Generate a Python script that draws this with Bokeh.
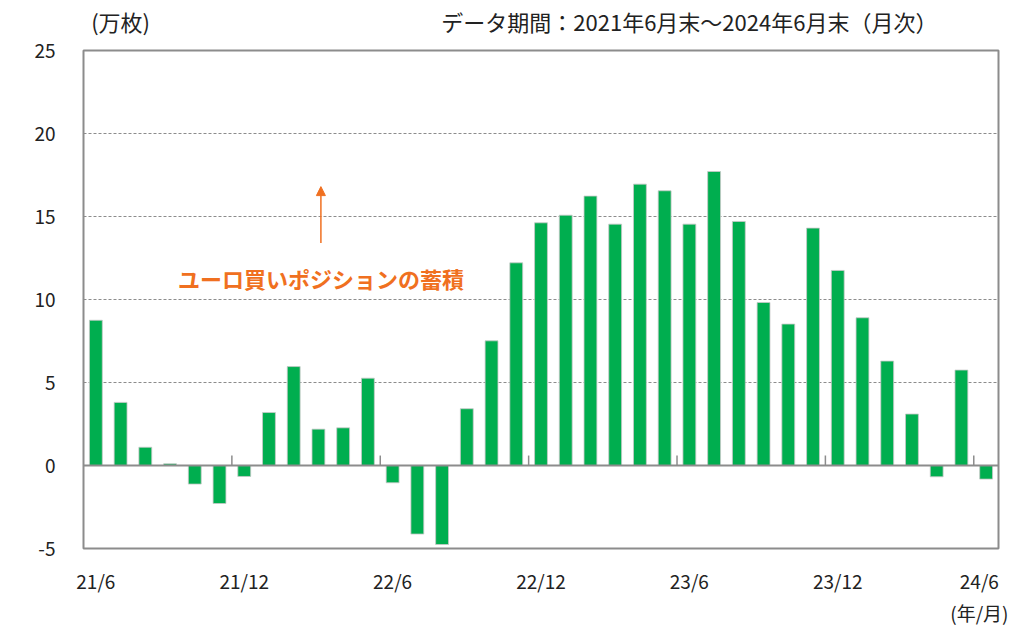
from bokeh.plotting import figure
from bokeh.models import ColumnDataSource, FixedTicker, Span, Label, Arrow, NormalHead, LinearAxis
from bokeh.embed import file_html
from bokeh.resources import INLINE

months = ["21/6","21/7","21/8","21/9","21/10","21/11","21/12",
          "22/1","22/2","22/3","22/4","22/5","22/6","22/7","22/8","22/9","22/10","22/11","22/12",
          "23/1","23/2","23/3","23/4","23/5","23/6","23/7","23/8","23/9","23/10","23/11","23/12",
          "24/1","24/2","24/3","24/4","24/5","24/6"]
values = [8.75, 3.8, 1.1, 0.1, -1.12, -2.29, -0.66,
          3.19, 5.96, 2.19, 2.27, 5.26, -1.04, -4.13, -4.76, 3.42, 7.51, 12.21, 14.62,
          15.08, 16.23, 14.54, 16.95, 16.55, 14.54, 17.71, 14.7, 9.82, 8.52, 14.3, 11.75,
          8.9, 6.29, 3.1, -0.68, 5.75, -0.82]
label_months = ["21/6", "21/12", "22/6", "22/12", "23/6", "23/12", "24/6"]
y_ticks = [-5, 0, 5, 10, 15, 20, 25]
grid_ticks = [5, 10, 15, 20]
unit_text = "(万枚)"
period_text = "データ期間：2021年6月末～2024年6月末（月次）"
x_unit_text = "(年/月)"
note_text = "ユーロ買いポジションの蓄積"

FONT = "Noto Sans CJK JP"
idx = list(range(len(months)))
src = ColumnDataSource(dict(x=idx, top=values, m=months))

p = figure(width=1008, height=628, output_backend="svg", toolbar_location=None,
           x_range=(-0.5, len(months) - 0.5), y_range=(-5, 25),
           min_border_left=83, min_border_right=10, min_border_top=50, min_border_bottom=72)

p.vbar(x="x", top="top", bottom=0, width=0.52, source=src,
       fill_color="#00AE4F", line_color="#C8C8C8", line_width=0.8)

label_pos = [months.index(m) for m in label_months]
overrides = {i: months[i] for i in label_pos}
overrides[label_pos[-1]] = months[label_pos[-1]] + "\n" + x_unit_text
p.xaxis.ticker = FixedTicker(ticks=label_pos)
p.xaxis.major_label_overrides = overrides
p.xaxis.axis_line_color = None
p.xaxis.major_tick_line_color = None
p.xaxis.minor_tick_line_color = None
p.xaxis.major_label_standoff = 12
p.xaxis.major_label_text_font = FONT
p.xaxis.major_label_text_font_size = "19px"
p.xaxis.major_label_text_color = "#222222"

p.yaxis.ticker = FixedTicker(ticks=y_ticks)
p.yaxis.major_label_overrides = {t: str(t) for t in y_ticks}
p.yaxis.axis_line_color = None
p.yaxis.major_tick_line_color = None
p.yaxis.minor_tick_line_color = None
p.yaxis.major_label_standoff = 22
p.yaxis.major_label_text_font = FONT
p.yaxis.major_label_text_font_size = "19px"
p.yaxis.major_label_text_color = "#222222"
p.yaxis.axis_label = " "
p.yaxis.axis_label_text_font_size = "1px"
p.yaxis.axis_label_standoff = 7

# header texts as labels of an axis above the plot
top_axis = LinearAxis(ticker=FixedTicker(ticks=[1, 24]),
                      major_label_overrides={1: unit_text, 24: period_text},
                      axis_line_color=None, major_tick_line_color=None,
                      minor_tick_line_color=None, major_label_standoff=8,
                      major_label_text_font=FONT, major_label_text_font_size="22px",
                      major_label_text_color="#222222")
p.add_layout(top_axis, "above")

p.xgrid.visible = False
p.ygrid.ticker = FixedTicker(ticks=grid_ticks)
p.ygrid.grid_line_color = "#8C8C8C"
p.ygrid.grid_line_dash = "3 2"
p.ygrid.grid_line_width = 1

p.outline_line_color = "#8C8C8C"
p.outline_line_width = 2

p.add_layout(Span(location=0, dimension="width", line_color="#8C8C8C", line_width=2))

bounds = [i - 0.5 for i in label_pos[1:]]
p.segment(x0=bounds, y0=[0]*len(bounds), x1=bounds, y1=[0.6]*len(bounds),
          line_color="#8C8C8C", line_width=1.5)

p.add_layout(Label(x=9.1, y=11.3, text=note_text, text_font=FONT,
                   text_font_size="22px", text_font_style="bold", text_color="#F07020",
                   text_baseline="middle", text_align="center"))
p.add_layout(Arrow(x_start=9.1, y_start=13.4, x_end=9.1, y_end=16.8,
                   line_color="#F07020", line_width=1.5,
                   end=NormalHead(size=9, fill_color="#F07020", line_color="#F07020")))

open("out.html", "w").write(file_html(p, INLINE))
